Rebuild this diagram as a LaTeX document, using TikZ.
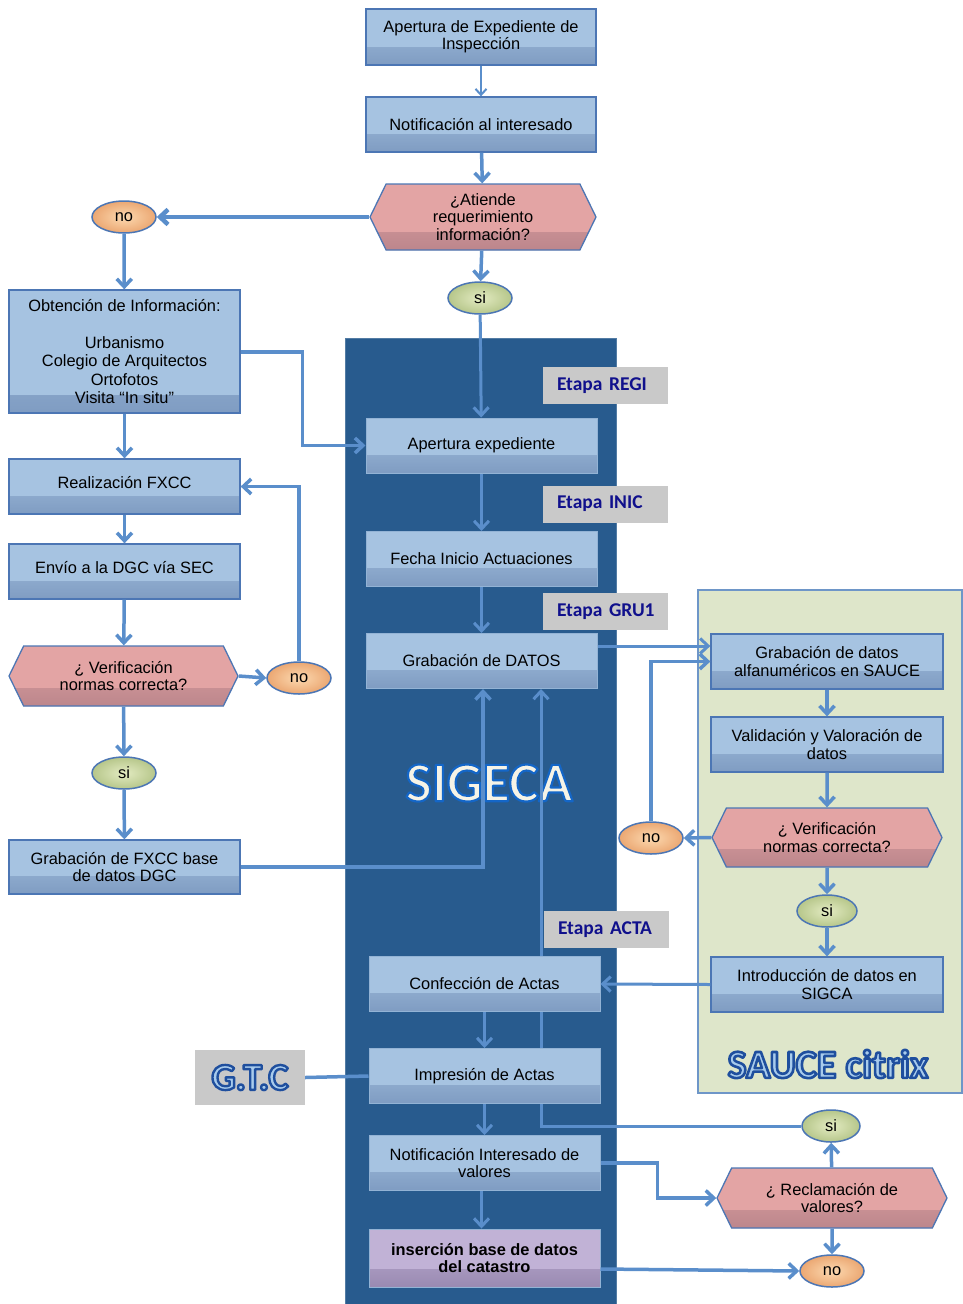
\documentclass[tikz,border=0pt]{standalone}
\usepackage{fontspec}
\setmainfont{Liberation Sans}
\newfontfamily\calib{Carlito}
\usetikzlibrary{arrows.meta,shapes.symbols,shapes.geometric}
\definecolor{boxfill}{HTML}{A6C3E1}
\definecolor{boxdark}{HTML}{7F9CC2}
\definecolor{boxline}{HTML}{4C76B4}
\definecolor{hexfill}{HTML}{E3A4A4}
\definecolor{hexdark}{HTML}{BC868C}
\definecolor{purfill}{HTML}{C1B2D6}
\definecolor{purdark}{HTML}{9A8AB2}
\definecolor{linec}{HTML}{5A8ECB}
\definecolor{sigpanel}{HTML}{285B8E}
\definecolor{saucepanel}{HTML}{DEE6CA}
\definecolor{sauceline}{HTML}{6E96C8}
\definecolor{etgray}{HTML}{C9C9C9}
\definecolor{etnavy}{HTML}{10108C}
\definecolor{orin}{HTML}{FCD9B0}
\definecolor{orout}{HTML}{EBA772}
\definecolor{grin}{HTML}{E3EBC2}
\definecolor{grout}{HTML}{B6C68A}
\definecolor{sigwhite}{HTML}{F6F3E6}
\definecolor{saucefill}{HTML}{A8CBEC}
\pgfdeclarelayer{bg}
\pgfdeclarelayer{mid}
\pgfsetlayers{bg,mid,main}
\newcommand\mainfnt{\fontsize{16.4}{17.5}\selectfont}
% outlined text: fill colour from node, stroke colour #1 (r g b), width #2
\newcommand\strokeon[2]{\special{pdf:literal direct #1 RG #2 w 1 j 2 Tr}}
\newcommand\strokeoff{\special{pdf:literal direct 0 Tr}}
\tikzset{
  bandshade/.style 2 args={path picture={\shade[top color=#1,bottom color=#2]
      ([yshift=18pt]path picture bounding box.south west) rectangle (path picture bounding box.south east);}},
  procbox/.style={rectangle, draw=boxline, line width=1.3pt, fill=boxfill,
      minimum width=231, minimum height=55, align=center, font=\mainfnt,
      bandshade={boxfill}{boxdark}},
  sigbox/.style={procbox, draw=boxfill!85!sigpanel, line width=1pt},
  hexa/.style={signal, signal to=west and east, signal pointer angle=128,
      draw=boxline, line width=1.3pt, fill=hexfill, align=center, font=\mainfnt,
      inner xsep=2pt, bandshade={hexfill}{hexdark}},
  noell/.style={ellipse, draw=boxline, line width=1.5pt, inner color=orin, outer color=orout,
      minimum width=64, minimum height=32, inner sep=0, font=\mainfnt},
  siell/.style={ellipse, draw=boxline, line width=1.5pt, inner color=grin, outer color=grout,
      minimum width=64, minimum height=32, inner sep=0, font=\mainfnt},
  etapa/.style={rectangle, fill=etgray, text=etnavy, font=\calib\bfseries\fontsize{19.5}{21}\selectfont,
      text width=111, align=left, inner xsep=7, minimum height=37},
  conn/.style={draw=linec, line width=3.5pt, -{Straight Barb[length=8pt,width=15pt]}},
  thinconn/.style={draw=linec, line width=2pt, -{Straight Barb[length=6pt,width=11pt]}},
  plainconn/.style={draw=linec, line width=3.5pt}
}
\begin{document}
\begin{tikzpicture}[x=1pt,y=-1pt]
\useasboundingbox (0,0) rectangle (963,1304);

% panels
\begin{pgfonlayer}{bg}
\fill[sigpanel] (345,338) rectangle (616,1304);
\draw[sigpanel!80!white, line width=1pt] (345,1304) -- (345,338) -- (616,338) -- (616,1304);
\filldraw[fill=saucepanel, draw=sauceline, line width=2pt] (698,590) rectangle (962,1093);
\end{pgfonlayer}

% big labels
\begin{pgfonlayer}{mid}
\node[font=\calib\bfseries\fontsize{56}{58}\selectfont, text=sigwhite, inner sep=0] (sigeca) at (489,783)
  {\strokeon{0.08 0.40 0.78}{2.2}SIGECA\strokeoff};
\end{pgfonlayer}
\node[font=\calib\bfseries\fontsize{40}{42}\selectfont, text=saucefill, inner sep=0] (sauce) at (828,1064)
  {\strokeon{0.12 0.31 0.62}{2.6}SAUCE citrix\strokeoff};

% top
\node[procbox, minimum width=230, minimum height=56] (A1) at (481,37) {Apertura de Expediente de\\Inspección};
\node[procbox, minimum width=230] (A2) at (481,124.5) {Notificación al interesado};
\node[hexa, minimum width=226, minimum height=66] (D1) at (483,217) {¿Atiende\\requerimiento\\información?};
\node[noell] (no1) at (124,217) {no};
\node[siell] (si1) at (480,298) {si};

% left column
\node[procbox, minimum height=123, font=\fontsize{16.4}{18.4}\selectfont] (O) at (124.5,351.5)
  {Obtención de Información:\\[18.4pt]Urbanismo\\Colegio de Arquitectos\\Ortofotos\\Visita “In situ”};
\node[procbox] (R) at (124.5,486.5) {\raisebox{8pt}{Realización FXCC}};
\node[procbox] (E) at (124.5,571.5) {\raisebox{8pt}{Envío a la DGC vía SEC}};
\node[hexa, minimum width=229, minimum height=60] (V1) at (123.5,676) {¿ Verificación\\normas correcta?};
\node[noell] (no2) at (299,678) {no};
\node[siell] (si2) at (124,773) {si};
\node[procbox, minimum height=54] (G) at (124.5,867) {Grabación de FXCC base\\de datos DGC};

% SIGECA boxes
\node[sigbox] (AE) at (481.5,445.5) {Apertura expediente};
\node[sigbox] (FI) at (481.5,559) {Fecha Inicio Actuaciones};
\node[sigbox] (GD) at (481.5,661) {Grabación de DATOS};
\node[sigbox] (CA) at (484.5,984) {Confección de Actas};
\node[sigbox] (IA) at (484.5,1076) {Impresión de Actas};
\node[sigbox] (NIV) at (484.5,1163) {Notificación Interesado de\\valores};
\node[sigbox, fill=purfill, bandshade={purfill}{purdark}, minimum height=58, font=\mainfnt\bfseries] (IB) at (484.5,1258) {inserción base de datos\\del catastro};

% Etapa labels
\node[etapa] (eREGI) at (605.5,385.5) {\hspace*{7pt}Etapa REGI};
\node[etapa] (eINIC) at (605.5,504) {\hspace*{7pt}Etapa INIC};
\node[etapa] (eGRU) at (605.5,611.5) {\hspace*{7pt}Etapa GRU1};
\node[etapa] (eACTA) at (606.5,929.5) {\hspace*{7pt}Etapa ACTA};

% SAUCE boxes
\node[procbox, minimum width=232] (GA) at (827,661.5) {Grabación de datos\\alfanuméricos en SAUCE};
\node[procbox, minimum width=232] (VV) at (827,744.5) {Validación y Valoración de\\datos};
\node[hexa, minimum width=230, minimum height=59] (V2) at (827,837.5) {¿ Verificación\\normas correcta?};
\node[noell] (no3) at (651,838) {no};
\node[siell, minimum width=60] (si3) at (827,911) {si};
\node[procbox, minimum width=232] (ID) at (827,984.5) {Introducción de datos en\\SIGCA};

% bottom right
\node[siell, minimum width=58] (si4) at (831,1126) {si};
\node[hexa, minimum width=230, minimum height=60] (D3) at (832,1198) {¿ Reclamación de\\valores?};
\node[noell] (no4) at (832,1271) {no};

% G.T.C
\node[rectangle, fill=etgray, minimum width=110, minimum height=55,
  font=\calib\bfseries\fontsize{38}{40}\selectfont, text=saucefill, inner sep=0] (GTC) at (250,1077.5)
  {\raisebox{-2pt}{\strokeon{0.12 0.31 0.62}{2.4}G.T.C\strokeoff}};

% connector behind SIGECA boxes
\begin{pgfonlayer}{mid}
\draw[conn, line width=3pt] (si4.west) -| ([xshift=59.5]GD.south);
\end{pgfonlayer}

% connectors
\draw[thinconn] (A1) -- (A2);
\draw[conn] (A2) -- (D1);
\draw[conn, line width=4.5pt] (D1.west) -- (no1.east);
\draw[conn] (no1) -- (O);
\draw[conn] (D1) -- (si1);
\draw[conn, line width=3pt] (si1) -- (AE);
\draw[conn] ([yshift=-0.5]O.east) -- ++(62,0) |- (AE.west);
\draw[conn] (O) -- (R);
\draw[conn] (R) -- (E);
\draw[conn] (E) -- (V1);
\draw[conn] (V1.east) -- (no2.west);
\draw[conn] (no2.north) |- (R.east);
\draw[conn] (V1) -- (si2);
\draw[conn] (si2) -- (G);
\draw[conn] (G.east) -| ([xshift=1.5]GD.south);
\draw[conn, line width=3pt] (AE) -- (FI);
\draw[conn, line width=3pt] (FI) -- (GD);
\draw[conn, line width=3pt] ([yshift=15]GD.east) -- ([yshift=15]GD.east -| GA.west);
\draw[conn] (no3.north) |- (GA.west);
\draw[conn] (GA) -- (VV);
\draw[conn] (VV) -- (V2);
\draw[conn] (V2.west) -- (no3.east);
\draw[conn] (V2) -- (si3);
\draw[conn] (si3) -- (ID);
\draw[conn, line width=3pt] (ID.west) -- (CA.east);
\draw[conn, line width=3pt] (CA) -- (IA);
\draw[conn, line width=3pt] (IA) -- (NIV);
\draw[conn, line width=3pt] ([xshift=-3]NIV.south) -- ([xshift=-3]IB.north);
\draw[conn] (D3) -- (si4);
\draw[conn] (D3) -- (no4);
\draw[conn] (NIV.east) -- ++(57,0) |- (D3.west);
\draw[conn] ([yshift=-11]IB.east) -- (no4.west);
\draw[plainconn] (GTC.east) -- (IA.west);
\end{tikzpicture}
\end{document}
